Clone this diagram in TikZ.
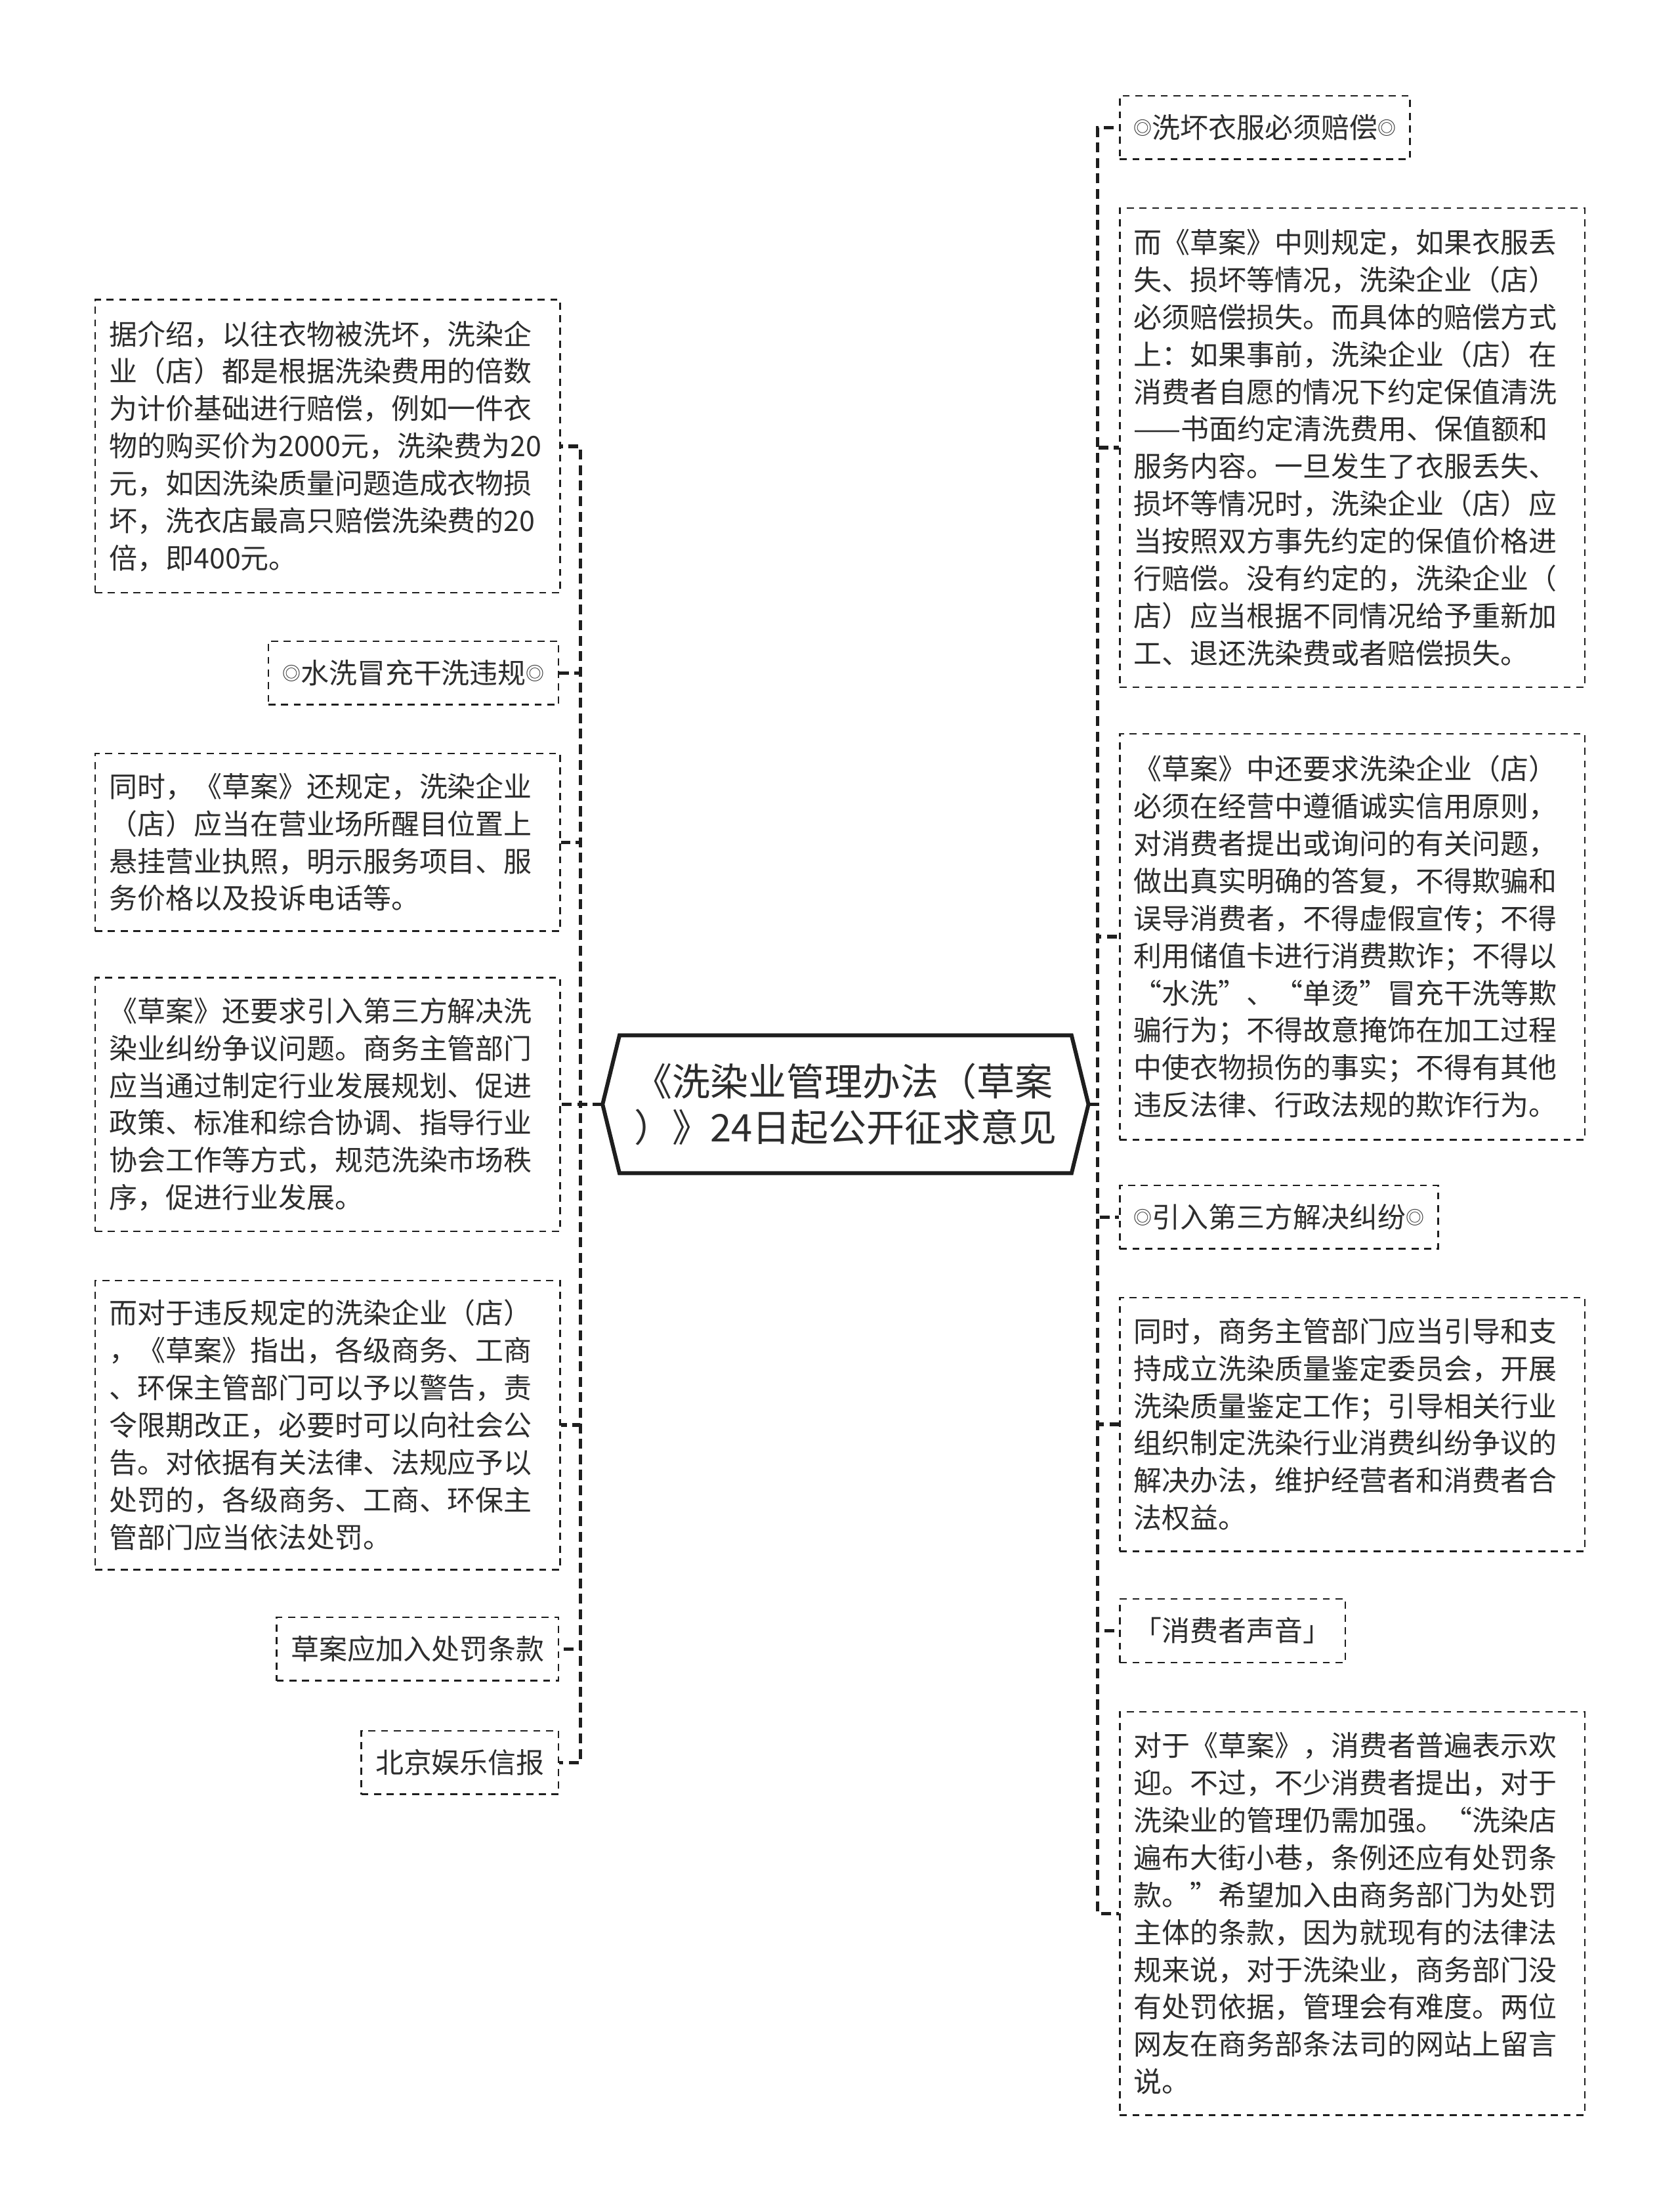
\documentclass[tikz,border=0pt]{standalone}
\usepackage{fontspec}
\setmainfont{Noto Sans CJK SC}
\usepackage{tikz}
\usetikzlibrary{positioning}
\definecolor{inkcolor}{RGB}{45,45,45}
\definecolor{edgecolor}{RGB}{30,30,30}
\newcommand{\ringmark}{\raisebox{1.3pt}{\fontsize{6.5pt}{6.5pt}\selectfont ◎}}

\begin{document}
\begin{tikzpicture}[
  x=0.5pt, y=-0.5pt,
  every node/.style={font=\fontsize{10pt}{13.25pt}\selectfont,text=inkcolor,inner sep=0pt},
  leaf/.style={draw=edgecolor,line width=0.6pt,dash pattern=on 2.5pt off 2pt,
    align=left,text width=155pt,inner xsep=5pt,anchor=north west},
  tag/.style={draw=edgecolor,line width=0.6pt,dash pattern=on 2.5pt off 2pt,
    inner xsep=5pt,minimum height=22.5pt},
  link/.style={draw=edgecolor,line width=1.25pt,dash pattern=on 3.5pt off 2pt}
]
  \useasboundingbox (0,0) rectangle (1192,1568);

  % root topic
  \node[font=\fontsize{13.5pt}{16.5pt}\selectfont,align=left,
    minimum width=160pt,minimum height=48.5pt] (root) at (600,783.5)
    {《洗染业管理办法（草案\\）》24日起公开征求意见};
  \coordinate (rootL) at ([xshift=-6pt]root.west);
  \coordinate (rootR) at ([xshift=6pt]root.east);
  \draw[edgecolor,line width=1.4pt] (rootL) -- (root.north west) -- (root.north east)
    -- (rootR) -- (root.south east) -- (root.south west) -- cycle;

  % left branch
  \node[leaf,minimum height=104pt] (L1) at (67,212)
    {据介绍，以往衣物被洗坏，洗染企\\业（店）都是根据洗染费用的倍数\\为计价基础进行赔偿，例如一件衣\\物的购买价为2000元，洗染费为20\\元，如因洗染质量问题造成衣物损\\坏，洗衣店最高只赔偿洗染费的20\\倍，即400元。};
  \node[tag,anchor=east] (L2) at (397,477.5) {\ringmark 水洗冒充干洗违规\ringmark};
  \node[leaf,minimum height=63pt] (L3) at (67,534)
    {同时，《草案》还规定，洗染企业\\（店）应当在营业场所醒目位置上\\悬挂营业执照，明示服务项目、服\\务价格以及投诉电话等。};
  \node[leaf,minimum height=90pt] (L4) at (67,693)
    {《草案》还要求引入第三方解决洗\\染业纠纷争议问题。商务主管部门\\应当通过制定行业发展规划、促进\\政策、标准和综合协调、指导行业\\协会工作等方式，规范洗染市场秩\\序，促进行业发展。};
  \node[leaf,minimum height=102.5pt] (L5) at (67,908)
    {而对于违反规定的洗染企业（店）\\，《草案》指出，各级商务、工商\\、环保主管部门可以予以警告，责\\令限期改正，必要时可以向社会公\\告。对依据有关法律、法规应予以\\处罚的，各级商务、工商、环保主\\管部门应当依法处罚。};
  \node[tag,anchor=east] (L6) at (397,1170) {草案应加入处罚条款};
  \node[tag,anchor=east] (L7) at (397,1250.5) {北京娱乐信报};

  % right branch
  \node[tag,anchor=west] (R1) at (794,90.5) {\ringmark 洗坏衣服必须赔偿\ringmark};
  \node[leaf,minimum height=170pt] (R2) at (794,147)
    {而《草案》中则规定，如果衣服丢\\失、损坏等情况，洗染企业（店）\\必须赔偿损失。而具体的赔偿方式\\上：如果事前，洗染企业（店）在\\消费者自愿的情况下约定保值清洗\\——书面约定清洗费用、保值额和\\服务内容。一旦发生了衣服丢失、\\损坏等情况时，洗染企业（店）应\\当按照双方事先约定的保值价格进\\行赔偿。没有约定的，洗染企业（\\店）应当根据不同情况给予重新加\\工、退还洗染费或者赔偿损失。};
  \node[leaf,minimum height=144pt] (R3) at (794,520)
    {《草案》中还要求洗染企业（店）\\必须在经营中遵循诚实信用原则，\\对消费者提出或询问的有关问题，\\做出真实明确的答复，不得欺骗和\\误导消费者，不得虚假宣传；不得\\利用储值卡进行消费欺诈；不得以\\“水洗”、“单烫”冒充干洗等欺\\骗行为；不得故意掩饰在加工过程\\中使衣物损伤的事实；不得有其他\\违反法律、行政法规的欺诈行为。};
  \node[tag,anchor=west] (R4) at (794,863.5) {\ringmark 引入第三方解决纠纷\ringmark};
  \node[leaf,minimum height=90pt] (R5) at (794,920)
    {同时，商务主管部门应当引导和支\\持成立洗染质量鉴定委员会，开展\\洗染质量鉴定工作；引导相关行业\\组织制定洗染行业消费纠纷争议的\\解决办法，维护经营者和消费者合\\法权益。};
  \node[tag,anchor=west] (R6) at (794,1157) {「消费者声音」};
  \node[leaf,minimum height=143pt] (R7) at (794,1214)
    {对于《草案》，消费者普遍表示欢\\迎。不过，不少消费者提出，对于\\洗染业的管理仍需加强。“洗染店\\遍布大街小巷，条例还应有处罚条\\款。”希望加入由商务部门为处罚\\主体的条款，因为就现有的法律法\\规来说，对于洗染业，商务部门没\\有处罚依据，管理会有难度。两位\\网友在商务部条法司的网站上留言\\说。};

  % connectors
  \coordinate (ltrunk) at (412,783.5);
  \coordinate (rtrunk) at (779,783.5);
  \draw[link] (rootL) -- (ltrunk) |- (L1.east);
  \draw[link] (rootL) -- (ltrunk) |- (L2.east);
  \draw[link] (rootL) -- (ltrunk) |- (L3.east);
  \draw[link] (rootL) -- (ltrunk) |- (L4.east);
  \draw[link] (rootL) -- (ltrunk) |- (L5.east);
  \draw[link] (rootL) -- (ltrunk) |- (L6.east);
  \draw[link] (rootL) -- (ltrunk) |- (L7.east);
  \draw[link] (rootR) -- (rtrunk) |- (R1.west);
  \draw[link] (rootR) -- (rtrunk) |- (R2.west);
  \draw[link] (rootR) -- (rtrunk) |- (R3.west);
  \draw[link] (rootR) -- (rtrunk) |- (R4.west);
  \draw[link] (rootR) -- (rtrunk) |- (R5.west);
  \draw[link] (rootR) -- (rtrunk) |- (R6.west);
  \draw[link] (rootR) -- (rtrunk) |- (R7.west);
\end{tikzpicture}
\end{document}
